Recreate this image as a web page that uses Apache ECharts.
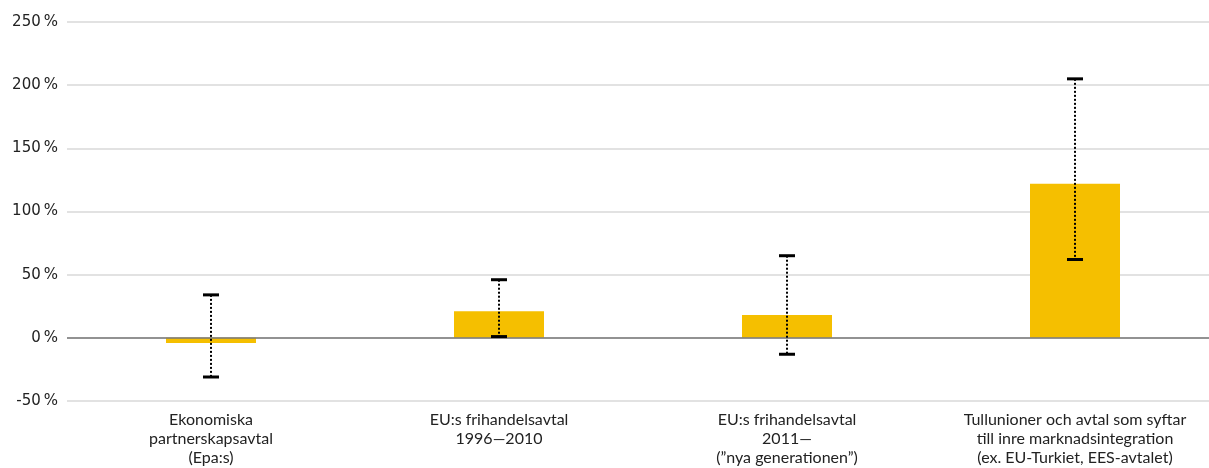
<!DOCTYPE html>
<html><head><meta charset="utf-8">
<script src="https://cdn.jsdelivr.net/npm/echarts@6/dist/echarts.min.js"></script>
<style>html,body{margin:0;padding:0;background:#fff}#c{width:1209px;height:468px}</style>
</head><body><div id="c"></div>
<script>
const categories = ['Ekonomiska\npartnerskapsavtal\n(Epa:s)', 'EU:s frihandelsavtal\n1996\u20142010', 'EU:s frihandelsavtal\n2011\u2014\n(\u201dnya generationen\u201d)', 'Tullunioner och avtal som syftar\ntill inre marknadsintegration\n(ex. EU-Turkiet, EES-avtalet)'];
const values = [-4, 21, 18, 122];
const errLow = [-31, 1, -13, 62];
const errHigh = [34, 46, 65, 205];

const chart = echarts.init(document.getElementById('c'));
chart.setOption({
  animation: false,
  grid: {left: 67, width: 1152, top: 22, bottom: 67, outerBoundsMode: 'none', containLabel: false},
  xAxis: {
    type: 'category', data: categories,
    axisLine: {show: false}, axisTick: {show: false},
    axisLabel: {color: '#222', fontFamily: 'Lato', fontSize: 16, lineHeight: 19, margin: 9, interval: 0}
  },
  yAxis: {
    type: 'value', min: -50, max: 250, interval: 50,
    axisLine: {show: false}, axisTick: {show: false},
    axisLabel: {formatter: '{value}\u2009%', color: '#222', fontFamily: 'DejaVu Sans', fontSize: 15, margin: 9},
    splitLine: {lineStyle: {color: '#d9d9d9', width: 1.5}}
  },
  series: [
    {
      type: 'bar', data: values, barWidth: 90,
      itemStyle: {color: '#f5bf00'},
      markLine: {
        silent: true, symbol: 'none', label: {show: false},
        lineStyle: {color: '#777', width: 1.5, type: 'solid'},
        data: [{yAxis: 0}]
      },
      z: 2
    },
    {
      type: 'custom',
      data: categories.map((c, i) => [i, errLow[i], errHigh[i]]),
      encode: {x: 0, y: [1, 2]},
      z: 5,
      renderItem: function (params, api) {
        const x = api.value(0);
        const lo = api.coord([x, api.value(1)]);
        const hi = api.coord([x, api.value(2)]);
        const hw = 8;
        return {
          type: 'group',
          children: [
            {type: 'line', shape: {x1: hi[0], y1: hi[1], x2: lo[0], y2: lo[1]},
             style: {stroke: '#000', lineWidth: 2, lineDash: [2, 2]}},
            {type: 'line', shape: {x1: hi[0] - hw, y1: hi[1], x2: hi[0] + hw, y2: hi[1]},
             style: {stroke: '#000', lineWidth: 3}},
            {type: 'line', shape: {x1: lo[0] - hw, y1: lo[1], x2: lo[0] + hw, y2: lo[1]},
             style: {stroke: '#000', lineWidth: 3}}
          ]
        };
      }
    }
  ]
});
</script>
</body></html>
